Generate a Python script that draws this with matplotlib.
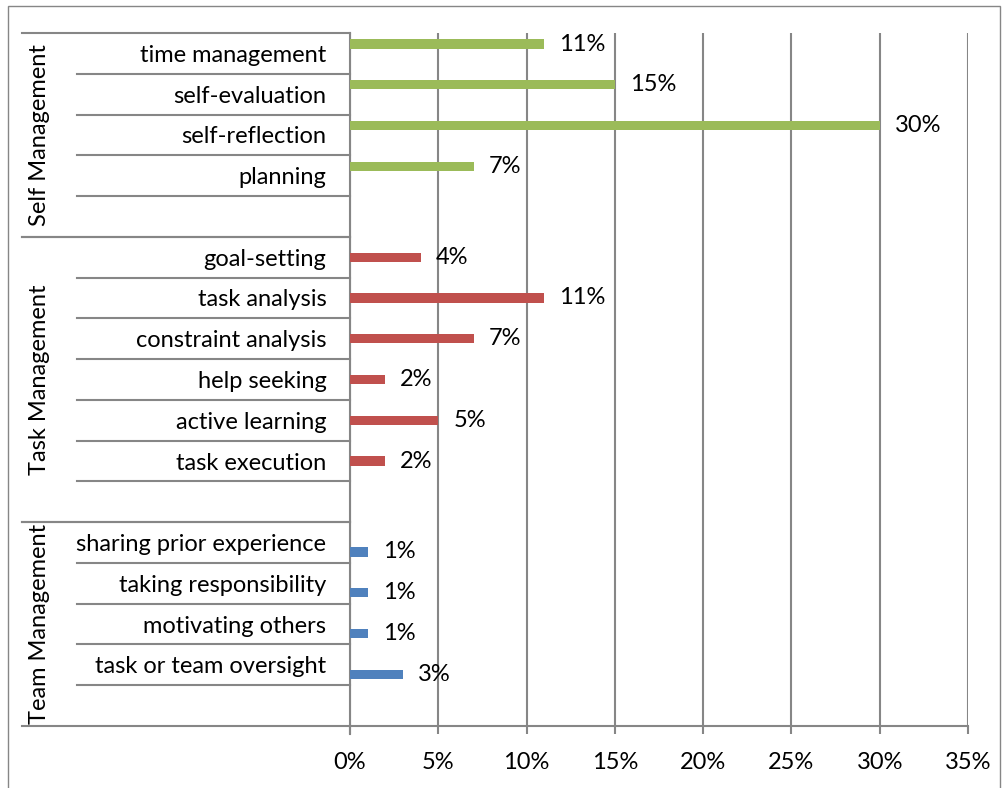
import matplotlib.pyplot as plt
import matplotlib.transforms as mtransforms
from matplotlib.patches import Rectangle

plt.rcParams['font.family'] = ['Lato', 'DejaVu Sans']

# Data (rows top to bottom, each group followed by an empty spacer row)
groups = ['Self Management', 'Task Management', 'Team Management']
group_colors = ['#9BBB59', '#C0504D', '#4F81BD']
self_cats = ['time management', 'self-evaluation', 'self-reflection', 'planning']
self_vals = [11, 15, 30, 7]
task_cats = ['goal-setting', 'task analysis', 'constraint analysis', 'help seeking',
             'active learning', 'task execution']
task_vals = [4, 11, 7, 2, 5, 2]
team_cats = ['sharing prior experience', 'taking responsibility', 'motivating others',
             'task or team oversight']
team_vals = [1, 1, 1, 3]
x_ticks = [0, 5, 10, 15, 20, 25, 30, 35]

FS = 17
W, H = 1005, 788
fig = plt.figure(figsize=(W / 100, H / 100), dpi=100)
fig.patch.set_facecolor('white')

# outer chart border
fig.add_artist(Rectangle((8 / W, 1 - 795 / H), 992 / W, 789 / H, transform=fig.transFigure,
                         fill=False, edgecolor='#868686', lw=1.0))

left, right, top, bottom = 350, 968, 33, 726
ax = fig.add_axes([left / W, 1 - bottom / H, (right - left) / W, (bottom - top) / H])

grid_c = '#868686'
offsets = [-0.23, 0.0, 0.23]
bar_h = 0.23

all_cats = [self_cats, task_cats, team_cats]
all_vals = [self_vals, task_vals, team_vals]

trans = mtransforms.blended_transform_factory(ax.transAxes, ax.transData)
x_group = (22 - left) / (right - left)
x_cat = (77 - left) / (right - left)

row = 0
yticks, ylabels = [], []
for name, cats, vals, col, off in zip(groups, all_cats, all_vals, group_colors, offsets):
    start = row
    for c, v in zip(cats, vals):
        y = row + 0.5
        ax.barh(y + off, v, height=bar_h, color=col, zorder=3)
        ax.text(v + 0.85, y + off, f'{v}%', va='center', ha='left', fontsize=FS)
        yticks.append(y)
        ylabels.append(c)
        row += 1
    row += 1  # empty spacer row
    # inner separators
    for b in range(start + 1, row):
        ax.plot([x_cat, 0], [b, b], transform=trans, color=grid_c, lw=1.5, clip_on=False)
    # group separators
    for b in (start, row):
        ax.plot([x_group, 0], [b, b], transform=trans, color=grid_c, lw=1.5, clip_on=False)
    ax.text((40 - left) / (right - left), (start + row) / 2, name, transform=trans,
            rotation=90, ha='center', va='center', fontsize=FS)

ax.set_ylim(row, 0)
ax.set_xlim(0, 35)
ax.set_xticks(x_ticks)
ax.set_xticklabels([f'{t}%' for t in x_ticks], fontsize=FS)
ax.set_yticks(yticks)
ax.set_yticklabels(ylabels, fontsize=FS)
ax.tick_params(axis='y', length=0, pad=17)
ax.tick_params(axis='x', length=6, width=1.5, color=grid_c, direction='out', pad=13)
ax.grid(axis='x', color=grid_c, lw=1.5, zorder=0)
for s in ['top', 'right']:
    ax.spines[s].set_visible(False)
for s in ['left', 'bottom']:
    ax.spines[s].set_color(grid_c)
    ax.spines[s].set_linewidth(1.5)
# vertical axis extends a bit below the horizontal axis
ax.plot([0, 0], [0, -0.012], transform=ax.transAxes, color=grid_c, lw=1.5, clip_on=False)

fig.savefig('out.png', dpi=100)
